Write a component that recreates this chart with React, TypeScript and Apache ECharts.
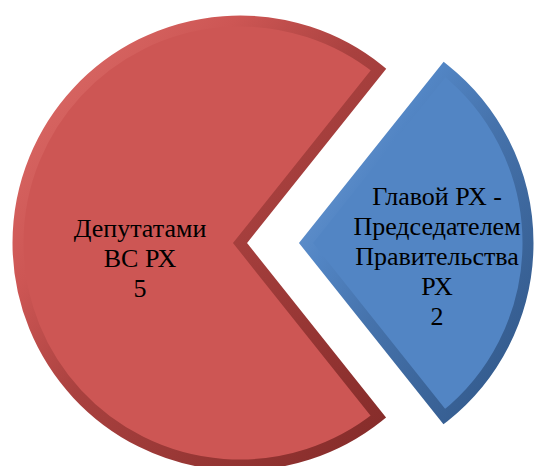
import React, { useEffect, useRef } from "react";
import * as echarts from "echarts";

const categories = ["Главой РХ -\nПредседателем\nПравительства\nРХ", "Депутатами\nВС РХ"];
const values = [2, 5];
const faceColors = ["#5285C4", "#CD5654"];
const edgeLight = ["#79A3D8", "#DE706C"];
const edgeMid = ["#4673AC", "#A9413F"];
const edgeDark = ["#2F5586", "#842B29"];
const centers = [[306, 243], [240, 243]];
const labelShift = [[20, 13], [11, 16]];

const START = 51.4;
const RADIUS = 222;
const LINE = 30;
const FONT = "Liberation Serif";

export default function App() {
  const ref = useRef<HTMLDivElement>(null);
  useEffect(() => {
    document.body.style.margin = "0";
    const chart = echarts.init(ref.current!, null, { renderer: "svg" });
    const total = values.reduce((a, b) => a + b, 0);
    const series = categories.map((_, s) => ({
      type: "pie",
      center: centers[s],
      radius: [0, RADIUS],
      startAngle: START,
      clockwise: true,
      silent: true,
      avoidLabelOverlap: false,
      emphasis: { disabled: true },
      label: { show: false },
      labelLine: { show: false },
      data: categories.map((name, i) => ({
        name,
        value: values[i],
        itemStyle:
          i === s
            ? {
                color: faceColors[i],
                borderWidth: 11,
                borderJoin: "miter",
                borderColor: new echarts.graphic.LinearGradient(0, 0, 1, 1, [
                  { offset: 0, color: edgeLight[i] },
                  { offset: 0.3, color: faceColors[i] },
                  { offset: 0.5, color: edgeMid[i] },
                  { offset: 1, color: edgeDark[i] },
                ]),
              }
            : { color: "rgba(0,0,0,0)", borderWidth: 0 },
      })),
    }));
    let cum = 0;
    const labels: any[] = [];
    categories.forEach((name, i) => {
      const mid = ((START - ((cum + values[i] / 2) / total) * 360) * Math.PI) / 180;
      cum += values[i];
      const cx = centers[i][0] + (RADIUS / 2) * Math.cos(mid) + labelShift[i][0];
      const cy = centers[i][1] - (RADIUS / 2) * Math.sin(mid) + labelShift[i][1];
      const lines = (name + "\n" + values[i]).split("\n");
      lines.forEach((line, j) => {
        labels.push({
          type: "text",
          x: cx,
          y: cy + (j - (lines.length - 1) / 2) * LINE,
          z: 100,
          silent: true,
          style: {
            text: line,
            fontFamily: FONT,
            fontSize: 26,
            fill: "#000",
            align: "center",
            verticalAlign: "middle",
          },
        });
      });
    });
    chart.setOption({
      animation: false,
      series,
      graphic: labels,
    });
    return () => chart.dispose();
  }, []);
  return <div ref={ref} style={{ width: 535, height: 466 }} />;
}
